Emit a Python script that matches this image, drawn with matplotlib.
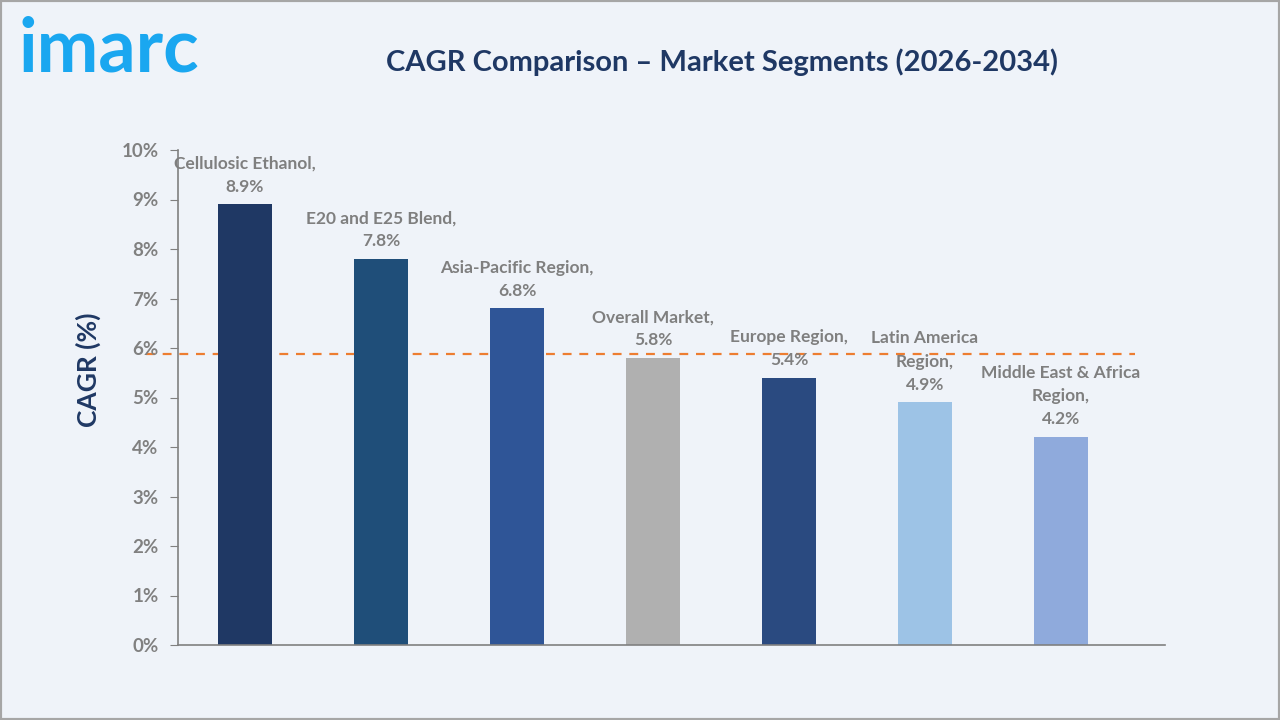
import matplotlib
matplotlib.use("Agg")
import matplotlib.pyplot as plt
from matplotlib.patches import Rectangle

categories = ["Cellulosic Ethanol", "E20 and E25 Blend", "Asia-Pacific Region",
              "Overall Market", "Europe Region", "Latin America\nRegion",
              "Middle East & Africa\nRegion"]
values = [8.9, 7.8, 6.8, 5.8, 5.4, 4.9, 4.2]
colors = ["#1F3864", "#1F4E79", "#2F5597", "#B0B0B0", "#2A4A80", "#9DC3E6", "#8FAADC"]
ref_line = 5.87
yticks = [0, 1, 2, 3, 4, 5, 6, 7, 8, 9, 10]
ytick_labels = [f"{t}%" for t in yticks]

plt.rcParams['font.family'] = ['Lato', 'DejaVu Sans']
bg = "#EFF3F9"
fig = plt.figure(figsize=(12.8, 7.2), dpi=100, facecolor=bg)
fig.patches.append(Rectangle((0, 0), 1, 1, transform=fig.transFigure, fill=False,
                             edgecolor="#A6A6A6", linewidth=3, zorder=10))

ax = fig.add_axes([178/1280, 1-645/720, (1165-178)/1280, (645-150)/720])
ax.set_facecolor(bg)
x = list(range(len(categories)))
ax.bar(x, values, width=0.4, color=colors, zorder=2)
ax.axhline(ref_line, color="#ED7D31", linestyle=(0, (4, 3.5)), linewidth=1.6, zorder=1,
           xmin=-0.032, xmax=0.97, clip_on=False)
ax.set_xlim(-0.493, 6.765)
ax.set_ylim(0, 10)
ax.set_yticks(yticks)
ax.set_yticklabels(ytick_labels, fontsize=13.5, fontweight='bold', color="#808080")
ax.set_xticks([])
for s in ["top", "right"]:
    ax.spines[s].set_visible(False)
for s in ["left", "bottom"]:
    ax.spines[s].set_color("#808080")
    ax.spines[s].set_linewidth(1.2)
ax.tick_params(axis='y', length=6, color="#808080", pad=8)

fig.text(88/1280, 1-370/720, "CAGR (%)", rotation=90, ha="center", va="center",
         fontsize=19, fontweight='bold', color="#1F3864")

for xi, v, c in zip(x, values, categories):
    ax.annotate(f"{c},\n{v}%", (xi, v), xytext=(0, 7), textcoords="offset points",
                ha="center", va="bottom", fontsize=12.5, fontweight='bold',
                color="#7F7F7F", linespacing=1.55)

fig.text(722/1280, 1-62/720, "CAGR Comparison – Market Segments (2026-2034)",
         ha="center", va="center", fontsize=21, fontweight='bold', color="#1F3864")
fig.text(18/1280, 1-50/720, "imarc", ha="left", va="center", fontsize=53,
         fontweight='bold', color="#1AA7F0")

fig.savefig("out.png", dpi=100, facecolor=bg)
